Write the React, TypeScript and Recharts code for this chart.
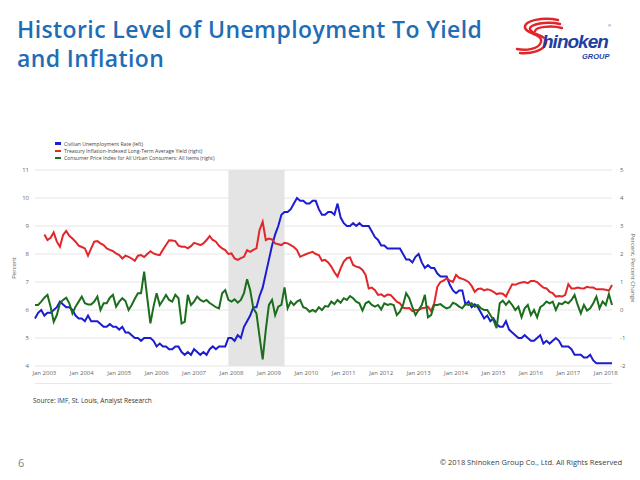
import { CartesianGrid, Line, LineChart, ReferenceArea, XAxis, YAxis } from 'recharts'

// months are counted from Jan 2003 (= 0); unemployment and CPI start in Oct 2002
const START_MONTH = -3

const unemployment = [
    5.7, 5.9, 6.0,
    5.8, 5.9, 5.9, 6.0, 6.1, 6.3, 6.2, 6.1, 6.1, 6.0, 5.8, 5.7,
    5.7, 5.6, 5.8, 5.6, 5.6, 5.6, 5.5, 5.4, 5.4, 5.5, 5.4, 5.4,
    5.3, 5.4, 5.2, 5.2, 5.1, 5.0, 5.0, 4.9, 5.0, 5.0, 5.0, 4.9,
    4.7, 4.8, 4.7, 4.7, 4.6, 4.6, 4.7, 4.7, 4.5, 4.4, 4.5, 4.4,
    4.6, 4.5, 4.4, 4.5, 4.4, 4.6, 4.7, 4.6, 4.7, 4.7, 4.7, 5.0,
    5.0, 4.9, 5.1, 5.0, 5.4, 5.6, 5.8, 6.1, 6.1, 6.5, 6.8, 7.3,
    7.8, 8.3, 8.7, 9.0, 9.4, 9.5, 9.5, 9.6, 9.8, 10.0, 9.9, 9.9,
    9.8, 9.8, 9.9, 9.9, 9.6, 9.4, 9.4, 9.5, 9.5, 9.4, 9.8, 9.3,
    9.1, 9.0, 9.0, 9.1, 9.0, 9.1, 9.0, 9.0, 9.0, 8.8, 8.6, 8.5,
    8.3, 8.3, 8.2, 8.2, 8.2, 8.2, 8.2, 8.0, 7.8, 7.8, 7.7, 7.9,
    8.0, 7.7, 7.5, 7.6, 7.5, 7.5, 7.3, 7.2, 7.2, 7.2, 6.9, 6.7,
    6.6, 6.7, 6.7, 6.2, 6.3, 6.1, 6.2, 6.1, 5.9, 5.7, 5.8, 5.6,
    5.7, 5.5, 5.4, 5.4, 5.6, 5.3, 5.2, 5.1, 5.0, 5.0, 5.1, 5.0,
    4.9, 4.9, 5.0, 5.1, 4.8, 4.9, 4.8, 4.9, 5.0, 4.9, 4.7, 4.7,
    4.7, 4.6, 4.4, 4.4, 4.4, 4.3, 4.3, 4.4, 4.2, 4.1, 4.1, 4.1,
    4.1, 4.1, 4.1,
]

// starts Jan 2003
const tipsYield = [
    2.70, 2.50, 2.58, 2.77, 2.44, 2.26, 2.68, 2.82, 2.65, 2.55, 2.44, 2.30,
    2.25, 2.20, 1.94, 2.20, 2.44, 2.46, 2.38, 2.32, 2.20, 2.15, 2.10, 2.02,
    1.96, 1.84, 1.94, 1.90, 1.84, 1.76, 1.94, 1.96, 1.89, 2.00, 2.10, 2.02,
    1.98, 1.96, 2.15, 2.32, 2.49, 2.48, 2.46, 2.30, 2.26, 2.26, 2.20, 2.28,
    2.40, 2.36, 2.32, 2.38, 2.50, 2.64, 2.50, 2.44, 2.29, 2.20, 2.14, 2.00,
    2.02, 1.84, 1.79, 1.85, 1.90, 2.14, 2.08, 2.15, 2.20, 2.86, 3.15, 2.50,
    2.55, 2.52, 2.38, 2.35, 2.32, 2.40, 2.38, 2.32, 2.25, 2.14, 1.90, 1.95,
    2.00, 2.04, 2.08, 2.00, 1.96, 1.76, 1.79, 1.70, 1.55, 1.35, 1.19, 1.49,
    1.73, 1.85, 1.88, 1.61, 1.55, 1.52, 1.43, 1.25, 0.77, 0.80, 0.71, 0.54,
    0.56, 0.48, 0.55, 0.54, 0.42, 0.30, 0.24, 0.08, 0.06, 0.07, -0.04, 0.00,
    0.00, 0.06, 0.08, 0.12, -0.04, 0.24, 0.83, 1.00, 1.05, 1.13, 1.05, 1.00,
    1.25, 1.15, 1.11, 1.07, 1.00, 0.86, 0.65, 0.75, 0.77, 0.70, 0.74, 0.71,
    0.65, 0.57, 0.60, 0.58, 0.48, 0.71, 0.92, 0.90, 0.95, 0.98, 1.00, 0.96,
    1.04, 1.04, 1.00, 0.89, 0.80, 0.77, 0.65, 0.60, 0.48, 0.50, 0.48, 0.54,
    0.92, 0.77, 0.77, 0.80, 0.78, 0.77, 0.83, 0.80, 0.80, 0.74, 0.74, 0.74,
    0.72, 0.69, 0.89,
]

const cpiChange = [
    0.18, 0.18, 0.30,
    0.44, 0.54, 0.12, -0.42, -0.18, 0.24, 0.36, 0.44, 0.24, -0.12, 0.12, 0.30,
    0.48, 0.24, 0.20, 0.20, 0.30, 0.48, 0.00, 0.24, 0.24, 0.44, 0.54, 0.12,
    0.30, 0.42, 0.32, 0.00, 0.18, 0.40, 0.60, 0.60, 1.37, 0.42, -0.48, 0.12,
    0.60, 0.18, 0.35, 0.54, 0.36, 0.30, 0.54, 0.42, -0.48, -0.42, 0.54, 0.18,
    0.30, 0.48, 0.36, 0.30, 0.36, 0.25, 0.18, 0.10, 0.06, 0.60, 0.71, 0.36,
    0.30, 0.38, 0.26, 0.36, 0.60, 1.10, 0.71, 0.06, -0.12, -0.95, -1.76, -0.71,
    0.18, 0.36, -0.18, 0.12, 0.18, 0.81, 0.06, 0.30, 0.18, 0.30, 0.36, 0.10,
    0.06, -0.06, 0.00, -0.06, 0.10, 0.00, 0.14, 0.12, 0.30, 0.21, 0.36, 0.26,
    0.42, 0.36, 0.50, 0.42, 0.30, 0.24, -0.02, 0.24, 0.30, 0.18, 0.12, 0.18,
    0.02, 0.24, 0.18, 0.21, 0.18, -0.18, -0.06, 0.18, 0.60, 0.42, 0.10, -0.18,
    0.00, 0.18, 0.54, -0.26, -0.18, 0.18, 0.18, 0.21, 0.12, 0.06, 0.10, 0.26,
    0.21, 0.12, 0.06, 0.21, 0.18, 0.24, 0.12, 0.18, 0.06, 0.00, 0.00, -0.18,
    -0.36, -0.65, 0.24, 0.33, 0.18, 0.32, 0.18, 0.00, 0.12, -0.26, 0.06, 0.18,
    -0.18, 0.00, -0.26, 0.10, 0.18, 0.30, 0.24, 0.30, 0.00, 0.24, 0.21, 0.30,
    0.24, 0.36, 0.54, 0.18, -0.12, 0.18, -0.02, 0.06, 0.24, 0.48, 0.06, 0.30,
    0.18, 0.57, 0.18,
]

const xTicks = [0, 12, 24, 36, 48, 60, 72, 84, 96, 108, 120, 132, 144, 156, 168, 180]
const xTickLabels = [
    'Jan 2003', 'Jan 2004', 'Jan 2005', 'Jan 2006', 'Jan 2007', 'Jan 2008',
    'Jan 2009', 'Jan 2010', 'Jan 2011', 'Jan 2012', 'Jan 2013', 'Jan 2014',
    'Jan 2015', 'Jan 2016', 'Jan 2017', 'Jan 2018',
]
const leftTicks = [4, 5, 6, 7, 8, 9, 10, 11]
const rightTicks = [-2, -1, 0, 1, 2, 3, 4, 5]
// Dec 2007 - Jun 2009
const recessionStart = 59
const recessionEnd = 77

const series = [
    { key: 'unemployment', name: 'Civilian Unemployment Rate (left)', color: '#1c1cd0', axis: 'left' },
    { key: 'tips', name: 'Treasury Inflation-Indexed Long-Term Average Yield (right)', color: '#e2262a', axis: 'right' },
    { key: 'cpi', name: 'Consumer Price Index for All Urban Consumers: All Items (right)', color: '#1a6e1c', axis: 'right' },
]

const data = unemployment.map((u, i) => {
    const m = START_MONTH + i
    return {
        m,
        unemployment: u,
        tips: m >= 0 ? tipsYield[m] : null,
        cpi: cpiChange[i],
    }
})

const FONT = '"Open Sans", "DejaVu Sans", sans-serif'
const tickStyle = { fontSize: 6, fill: '#666666', fontFamily: FONT }
const titleStyle = {
    position: 'absolute' as const,
    left: 17,
    fontFamily: '"Open Sans", sans-serif',
    fontWeight: 600,
    fontSize: 23,
    lineHeight: 1.2,
    color: '#1f6db5',
    whiteSpace: 'nowrap' as const,
    letterSpacing: 0.4,
}

function ShinokenLogo() {
    return (
        <svg width={100} height={50} style={{ position: 'absolute', left: 514, top: 15 }}>
            <g fill="none" stroke="#e0252b" strokeWidth={2.4} strokeLinecap="round">
                <path d="M 44 5 C 30 2, 9 5, 11 13 C 13 19, 29 19, 27 27 C 25 34, 12 36, 3 34" />
                <path d="M 46 9 C 33 6, 15 9, 16 14 C 17 20, 34 20, 32 28 C 30 36, 16 39, 6 38" />
                <path d="M 48 13 C 37 10, 22 12, 21 16" />
            </g>
            <text x={28} y={33} fontFamily='"Liberation Sans", Arial, sans-serif' fontStyle="italic"
                fontWeight={700} fontSize={19} fill="#1f3f9f" letterSpacing={-1}>hinoken</text>
            <text x={68} y={44} fontFamily='"Liberation Sans", Arial, sans-serif' fontStyle="italic"
                fontWeight={700} fontSize={7.5} fill="#1f3f9f">GROUP</text>
            <text x={94} y={12} fontFamily='"Liberation Sans", Arial, sans-serif' fontSize={4}
                fill="#1f3f9f">®</text>
        </svg>
    )
}

export default function App() {
    return (
        <div style={{ position: 'absolute', left: 0, top: 0, width: 640, height: 480, background: '#ffffff', overflow: 'hidden', fontFamily: FONT }}>
            <div style={{ ...titleStyle, top: 16 }}>Historic Level of Unemployment To Yield</div>
            <div style={{ ...titleStyle, top: 45 }}>and Inflation</div>
            <ShinokenLogo />

            <div style={{ position: 'absolute', left: 55, top: 140 }}>
                {series.map((s) => (
                    <div key={s.key} style={{ display: 'flex', alignItems: 'center', height: 7.3 }}>
                        <span style={{ width: 6, height: 2.5, background: s.color, marginRight: 3 }} />
                        <span style={{ fontSize: 5.1, color: '#444444', whiteSpace: 'nowrap' }}>{s.name}</span>
                    </div>
                ))}
            </div>

            <LineChart
                width={640}
                height={480}
                data={data}
                margin={{ top: 170, right: 13, bottom: 100, left: 25 }}
                style={{ position: 'absolute', left: 0, top: 0 }}
            >
                <ReferenceArea
                    yAxisId="left"
                    x1={recessionStart}
                    x2={recessionEnd}
                    y1={4}
                    y2={11}
                    fill="#e4e4e4"
                    fillOpacity={1}
                    stroke="none"
                />
                <CartesianGrid yAxisId="left" vertical={false} stroke="#e6e6e6" />
                <XAxis
                    dataKey="m"
                    type="number"
                    domain={[START_MONTH, START_MONTH + unemployment.length - 1]}
                    ticks={xTicks}
                    tickFormatter={(v: number) => xTickLabels[xTicks.indexOf(v)]}
                    interval={0}
                    axisLine={false}
                    tickLine={false}
                    tickSize={3}
                    height={14}
                    tick={tickStyle}
                />
                <YAxis
                    yAxisId="left"
                    domain={[4, 11]}
                    ticks={leftTicks}
                    axisLine={false}
                    tickLine={false}
                    tickSize={4}
                    width={10}
                    tick={tickStyle}
                />
                <YAxis
                    yAxisId="right"
                    orientation="right"
                    domain={[-2, 5]}
                    ticks={rightTicks}
                    axisLine={false}
                    tickLine={false}
                    width={15}
                    tick={tickStyle}
                />
                {series.map((s) => (
                    <Line
                        key={s.key}
                        yAxisId={s.axis}
                        dataKey={s.key}
                        type="linear"
                        stroke={s.color}
                        strokeWidth={2}
                        dot={false}
                        isAnimationActive={false}
                    />
                ))}
            </LineChart>

            <div style={{ position: 'absolute', left: 14, top: 268, transform: 'translate(-50%, -50%) rotate(-90deg)', fontSize: 6, color: '#666666', whiteSpace: 'nowrap' }}>
                Percent
            </div>
            <div style={{ position: 'absolute', left: 633, top: 268, transform: 'translate(-50%, -50%) rotate(90deg)', fontSize: 6, color: '#666666', whiteSpace: 'nowrap' }}>
                Percent, Percent Change
            </div>
            <div style={{ position: 'absolute', left: 35, top: 383, width: 577, height: 1, background: '#e8e8e8' }} />

            <div style={{ position: 'absolute', left: 33, top: 396, fontSize: 6.5, color: '#333333' }}>
                Source: IMF, St. Louis, Analyst Research
            </div>
            <div style={{ position: 'absolute', left: 18, top: 455, fontSize: 11, color: '#7f7f7f' }}>6</div>
            <div style={{ position: 'absolute', right: 18, top: 457, fontSize: 7.5, color: '#404040', whiteSpace: 'nowrap' }}>
                © 2018 Shinoken Group Co., Ltd. All Rights Reserved
            </div>
        </div>
    )
}
